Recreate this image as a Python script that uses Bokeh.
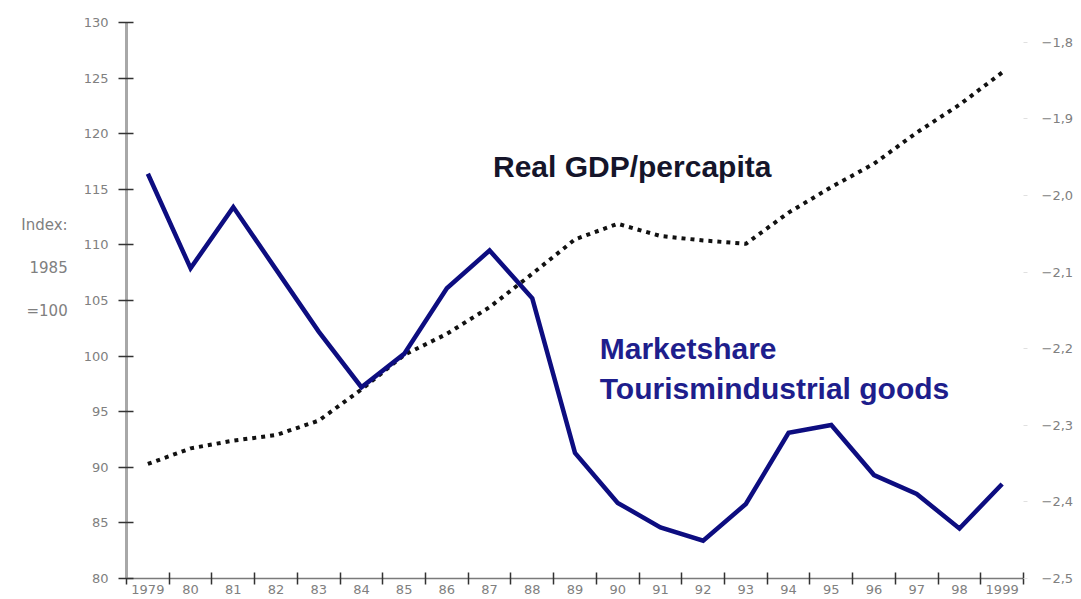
from bokeh.plotting import figure
from bokeh.models import (Range1d, LinearAxis, FixedTicker, CustomJSTickFormatter,
                          Label, ColumnDataSource)
from bokeh.embed import file_html
from bokeh.resources import INLINE

# ---- data ----
years = [1979, 1980, 1981, 1982, 1983, 1984, 1985, 1986, 1987, 1988, 1989,
         1990, 1991, 1992, 1993, 1994, 1995, 1996, 1997, 1998, 1999]
year_labels = ["1979", "80", "81", "82", "83", "84", "85", "86", "87", "88", "89",
               "90", "91", "92", "93", "94", "95", "96", "97", "98", "1999"]
market_share = [116.4, 107.9, 113.4, 107.8, 102.2, 97.2, 100.2, 106.1, 109.5, 105.2, 91.3,
                86.8, 84.6, 83.4, 86.7, 93.1, 93.8, 89.3, 87.6, 84.5, 88.5]
real_gdp = [90.3, 91.7, 92.4, 92.9, 94.2, 97.0, 100.1, 102.0, 104.4, 107.4, 110.5,
            111.9, 110.8, 110.4, 110.1, 112.9, 115.2, 117.3, 120.1, 122.6, 125.5]
left_ticks = [80, 85, 90, 95, 100, 105, 110, 115, 120, 125, 130]
right_ticks = [-2.5, -2.4, -2.3, -2.2, -2.1, -2.0, -1.9, -1.8]
right_labels = ["\u22122,5", "\u22122,4", "\u22122,3", "\u22122,2", "\u22122,1",
                "\u22122,0", "\u22121,9", "\u22121,8"]
index_note = ["Index:", "1985", "=100"]

GRAY = "#808080"
NAVY = "#0d0d80"
TICKFONT = "DejaVu Sans"

p = figure(width=1080, height=599, output_backend="svg", toolbar_location=None,
           x_range=Range1d(years[0] - 0.5, years[-1] + 0.5),
           y_range=Range1d(80, 130),
           min_border_left=126, min_border_right=57, min_border_top=22,
           min_border_bottom=21)
p.xgrid.visible = False
p.ygrid.visible = False
p.outline_line_color = None
p.background_fill_color = "white"
p.border_fill_color = "white"

src = ColumnDataSource(dict(x=years, ms=market_share, gdp=real_gdp))
p.line("x", "gdp", source=src, line_color="#111111", line_width=4, line_dash="4 5")
p.line("x", "ms", source=src, line_color=NAVY, line_width=4.5, line_join="miter")

# ---- x axis: labels at year centres, tick marks at boundaries ----
xa = p.xaxis[0]
boundaries = [y - 0.5 for y in years] + [years[-1] + 0.5]
xa.ticker = FixedTicker(ticks=years, minor_ticks=boundaries)
xa.formatter = CustomJSTickFormatter(args=dict(years=years, labels=year_labels), code="""
    const i = years.indexOf(Math.round(tick));
    return i >= 0 ? labels[i] : '';
""")
xa.major_tick_line_color = None
xa.minor_tick_line_color = "#333333"
xa.minor_tick_line_width = 1.5
xa.minor_tick_in = 6
xa.minor_tick_out = 6
xa.axis_line_color = "#7a7a7a"
xa.axis_line_width = 1.5
xa.major_label_standoff = 0
xa.major_label_text_color = GRAY
xa.major_label_text_font = TICKFONT
xa.major_label_text_font_size = "13px"

# ---- left axis ----
ya = p.yaxis[0]
ya.ticker = FixedTicker(ticks=left_ticks)
ya.minor_tick_line_color = None
ya.major_tick_line_color = "#333333"
ya.major_tick_line_width = 1.5
ya.major_tick_in = 7
ya.major_tick_out = 8
ya.axis_line_color = "#a8a8a8"
ya.axis_line_width = 3
ya.major_label_standoff = 10
ya.major_label_text_color = GRAY
ya.major_label_text_font = TICKFONT
ya.major_label_text_font_size = "13px"
ya.axis_label = "\n\n".join(index_note) + "\n\n\n"
ya.axis_label_orientation = "horizontal"
ya.axis_label_standoff = 13
ya.axis_label_text_color = GRAY
ya.axis_label_text_font = TICKFONT
ya.axis_label_text_font_size = "15px"
ya.axis_label_text_font_style = "normal"
ya.axis_label_text_align = "left"

# ---- right axis ----
p.extra_y_ranges = {"right": Range1d(-2.5, -1.774)}
ra = LinearAxis(y_range_name="right")
ra.ticker = FixedTicker(ticks=right_ticks)
ra.formatter = CustomJSTickFormatter(args=dict(vals=right_ticks, labels=right_labels), code="""
    for (let i = 0; i < vals.length; i++) {
        if (Math.abs(vals[i] - tick) < 1e-6) return labels[i];
    }
    return '';
""")
ra.axis_line_color = None
ra.minor_tick_line_color = None
ra.major_tick_line_color = "#e0e0e0"
ra.major_tick_in = 0
ra.major_tick_out = 4
ra.major_label_standoff = 14
ra.major_label_text_color = GRAY
ra.major_label_text_font = TICKFONT
ra.major_label_text_font_size = "13px"
p.add_layout(ra, "right")

# ---- annotations ----
p.add_layout(Label(x=1987.08, y=117.05, text="Real GDP/percapita",
                   text_color="#15152a", text_font="Liberation Sans",
                   text_font_style="bold", text_font_size="30px",
                   text_baseline="alphabetic"))
p.add_layout(Label(x=1989.58, y=100.68, text="Marketshare",
                   text_color="#1e1e8c", text_font="Liberation Sans",
                   text_font_style="bold", text_font_size="30px",
                   text_baseline="alphabetic"))
p.add_layout(Label(x=1989.58, y=97.1, text="Tourismindustrial goods",
                   text_color="#1e1e8c", text_font="Liberation Sans",
                   text_font_style="bold", text_font_size="30px",
                   text_baseline="alphabetic"))

open("out.html", "w").write(file_html(p, INLINE))
